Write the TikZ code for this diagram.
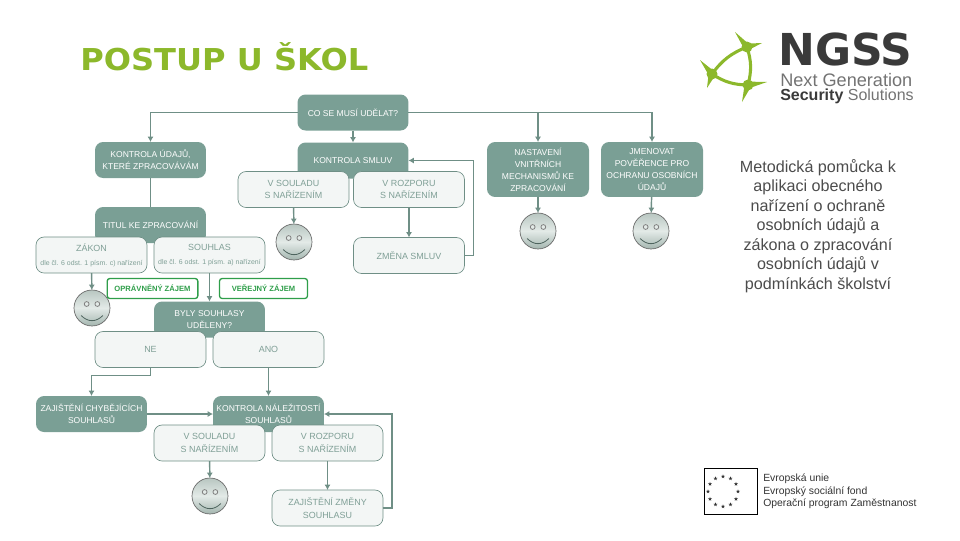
\documentclass[tikz,border=0pt]{standalone}
\usepackage{fontspec}
\usepackage{graphicx}
\setmainfont{Liberation Sans}
\newfontfamily\titulfont{DejaVu Sans}
\usepackage{xcolor}
\usetikzlibrary{arrows.meta,positioning,shapes.geometric,calc}
\definecolor{tmava}{HTML}{7A9F95}
\definecolor{linka}{HTML}{6F8F86}
\definecolor{svetla}{HTML}{F3F6F5}
\definecolor{popis}{HTML}{7F9F96}
\definecolor{zelena}{HTML}{2F9E4A}
\definecolor{olivova}{HTML}{8CB82B}
\definecolor{sedylogo}{HTML}{3A3A3A}
\definecolor{tvar1}{HTML}{B8C6C1}
\definecolor{tvar2}{HTML}{E3EAE7}
\definecolor{tvar3}{HTML}{A3B5AF}
\tikzset{
    krabice/.style={
        rectangle,
        rounded corners=6pt,
        align=center,
        outer sep=0pt,
        inner sep=1pt,
        minimum width=83.2pt,
        minimum height=27pt,
        font=\fontsize{6.4}{9}\selectfont
    },
    tmavy/.style={krabice, fill=tmava, text=white},
    uzky/.style={tmavy, minimum width=76.5pt, minimum height=41.2pt},
    svetly/.style={
        krabice,
        draw=linka,
        line width=0.5pt,
        fill=svetla,
        text=popis,
        font=\fontsize{6.7}{9.4}\selectfont
    },
    stitek/.style={
        rectangle,
        draw=zelena,
        line width=1pt,
        rounded corners=2pt,
        outer sep=0pt,
        minimum height=15pt,
        text=zelena,
        font=\fontsize{5.7}{6}\selectfont\bfseries
    },
    smajlik/.style={
        circle,
        draw=black!60,
        line width=0.5pt,
        minimum size=27pt,
        inner sep=0pt,
        outer sep=0pt,
        top color=tvar1,
        bottom color=tvar3,
        middle color=tvar2,
        path picture={
            \draw[black!50, fill=tvar2, line width=0.6pt]
                ([shift={(-4pt,3pt)}]path picture bounding box.center) circle (1.8pt)
                ([shift={(4pt,3pt)}]path picture bounding box.center) circle (1.8pt);
            \draw[linka!70!black, line width=0.6pt]
                ([shift={(-8.2pt,-5.6pt)}]path picture bounding box.center)
                .. controls ([shift={(-3pt,-10.8pt)}]path picture bounding box.center)
                and ([shift={(3pt,-10.8pt)}]path picture bounding box.center)
                .. ([shift={(8.2pt,-5.6pt)}]path picture bounding box.center);
        }
    },
    sipka/.style={-{Latex[length=4pt,width=4.5pt]}, draw=linka, line width=1.1pt},
    cara/.style={draw=linka, line width=1.1pt},
    hvezda/.style={star, star points=5, star point ratio=2.4, fill=black!80, inner sep=0pt, minimum size=3.2pt},
    logoramp/.style={fill=olivova, draw=none}
}
\begin{document}
\begin{tikzpicture}[x=0.75pt, y=-0.75pt, node distance=9pt and 9pt]
    \useasboundingbox (0,0) rectangle (960,540);
    % nadpis a text vpravo
    \node[anchor=base west, inner sep=0pt, text=olivova, font=\titulfont\bfseries\fontsize{22.6}{26}\selectfont] (nadpis) at (80,70) {\scalebox{1.065}[1]{POSTUP U ŠKOL}};
    \node[align=center, inner sep=0pt, text=black!70, font=\fontsize{12.1}{14.6}\selectfont] (metodika) at (818,226)
        {Metodická pomůcka k\\aplikaci obecného\\nařízení o ochraně\\osobních údajů a\\zákona o zpracování\\osobních údajů v\\podmínkách školství};

    % horni rada
    \node[tmavy] (co) at (353,112.5) {CO SE MUSÍ UDĚLAT?};
    \node[tmavy, below=of co] (smlouvy) {KONTROLA SMLUV};
    \node[tmavy] (udaje) at (150.5,160) {KONTROLA ÚDAJŮ,\\KTERÉ ZPRACOVÁVÁM};
    \node[tmavy, below=21.75pt of udaje] (titul) {TITUL KE ZPRACOVÁNÍ};
    \node[uzky] (nastaveni) at (538,169.5) {NASTAVENÍ\\VNITŘNÍCH\\MECHANISMŮ KE\\ZPRACOVÁNÍ};
    \node[uzky] (poverenec) at (652,169.5) {JMENOVAT\\POVĚŘENCE PRO\\OCHRANU OSOBNÍCH\\ÚDAJŮ};

    % smlouvy
    \node[svetly] (soulad) at (293.5,189.5) {V SOULADU\\S NAŘÍZENÍM};
    \node[svetly] (rozpor) at (409,189.5) {V ROZPORU\\S NAŘÍZENÍM};
    \node[svetly, below=22.5pt of rozpor] (zmena) {ZMĚNA SMLUV};
    \node[smajlik] (smich1) at (294,242) {};
    \node[smajlik] (smich2) at (538,231) {};
    \node[smajlik] (smich3) at (651,231) {};

    % tituly
    \node[svetly] (zakon) at (91.5,255) {ZÁKON\\[1pt]{\fontsize{5.2}{6}\selectfont dle čl. 6 odst. 1 písm. c) nařízení}};
    \node[svetly] (souhlas) at (209.5,255) {SOUHLAS\\[1pt]{\fontsize{5.2}{6}\selectfont dle čl. 6 odst. 1 písm. a) nařízení}};
    \node[stitek, minimum width=68pt] (opravneny) at (152.5,288.5) {OPRÁVNĚNÝ ZÁJEM};
    \node[stitek, minimum width=66pt] (verejny) at (263.5,288.5) {VEŘEJNÝ ZÁJEM};
    \node[smajlik] (smich4) at (92,308) {};

    % souhlasy
    \node[tmavy] (byly) at (209.5,319.5) {BYLY SOUHLASY\\UDĚLENY?};
    \node[svetly] (ne) at (150.5,349.5) {NE};
    \node[svetly] (ano) at (268.5,349.5) {ANO};
    \node[tmavy] (chybejici) at (91.5,414) {ZAJIŠTĚNÍ CHYBĚJÍCÍCH\\SOUHLASŮ};
    \node[tmavy] (nalezitosti) at (268.5,414) {KONTROLA NÁLEŽITOSTÍ\\SOUHLASŮ};
    \node[svetly] (soulad2) at (209.5,443) {V SOULADU\\S NAŘÍZENÍM};
    \node[svetly] (rozpor2) at (327.5,443) {V ROZPORU\\S NAŘÍZENÍM};
    \node[svetly, below=21.75pt of rozpor2] (zmena2) {ZAJIŠTĚNÍ ZMĚNY\\SOUHLASU};
    \node[smajlik] (smich5) at (210,496) {};

    % spoje
    \draw[sipka] (co.west) -| (udaje.north);
    \draw[sipka] (co) -- (smlouvy);
    \draw[sipka] (co.east) -| (nastaveni.north);
    \draw[sipka] (co.east) -| (poverenec.north);
    \draw[cara] (udaje) -- (titul);
    \draw[sipka] (soulad) -- (smich1);
    \draw[sipka] (rozpor) -- (zmena);
    \draw[sipka] (zmena.east) -- ++(9,0) |- (smlouvy.east);
    \draw[sipka] (nastaveni) -- (smich2);
    \draw[sipka] (poverenec) -- (smich3);
    \draw[sipka] (zakon) -- (smich4);
    \draw[sipka] (souhlas) -- (byly);
    \draw[sipka] (ne.south) -- ++(0,8) -| (chybejici.north);
    \draw[sipka] (ano) -- (nalezitosti);
    \draw[sipka] (chybejici) -- (nalezitosti);
    \draw[sipka] (soulad2) -- (smich5);
    \draw[sipka] (rozpor2) -- (zmena2);
    \draw[sipka] (zmena2.east) -- ++(9,0) |- (nalezitosti.east);

    % logo
    \coordinate (lev) at (712,74);
    \coordinate (hor) at (747,47);
    \coordinate (dol) at (748,85);
    \coordinate (c1) at (735,32);
    \coordinate (c2) at (762,43);
    \coordinate (c3) at (700,60);
    \coordinate (c4) at (707,88);
    \coordinate (c5) at (742,102);
    \coordinate (c6) at (767,82);
    \draw[olivova, line width=2.3pt] (lev) to[bend left=16] (hor) to[bend left=16] (dol) to[bend left=16] (lev);
    \fill[logoramp] (lev) circle (5.5) (hor) circle (5.5) (dol) circle (5.5);
    \foreach \a/\b in {hor/c1,hor/c2,lev/c3,lev/c4,dol/c5,dol/c6} {
        \fill[logoramp] ($(\a)!2.6pt!90:(\b)$) -- (\b) -- ($(\a)!2.6pt!-90:(\b)$) -- cycle;
    }
    \node[anchor=base west, inner sep=0pt, text=sedylogo, font=\titulfont\bfseries\fontsize{33}{36}\selectfont] (ngss) at (778,65) {NGSS};
    \node[anchor=base west, inner sep=0pt, text=black!55, font=\fontsize{13.6}{14}\selectfont] (next) at (780,86.5) {Next Generation};
    \node[anchor=base west, inner sep=0pt, text=black!55, font=\fontsize{12}{14}\selectfont] (security) at (780,100) {\textcolor{sedylogo}{\textbf{Security}} Solutions};

    % evropska unie
    \draw[black, line width=0.6pt] (704,468.5) rectangle (757,514);
    \foreach \i in {0,30,...,330} {
        \node[hvezda] (eu\i) at ({723+15*cos(\i)},{491.5+15*sin(\i)}) {};
    }
    \node[anchor=base west, inner sep=0pt, text=black!80, font=\fontsize{7.8}{10}\selectfont] (esf) at (763,481) {Evropská unie};
    \node[anchor=base west, inner sep=0pt, text=black!80, font=\fontsize{7.8}{10}\selectfont] (esf2) at (763,494) {Evropský sociální fond};
    \node[anchor=base west, inner sep=0pt, text=black!80, font=\fontsize{7.8}{10}\selectfont] (esf3) at (763,506.5) {Operační program Zaměstnanost};
\end{tikzpicture}
\end{document}
